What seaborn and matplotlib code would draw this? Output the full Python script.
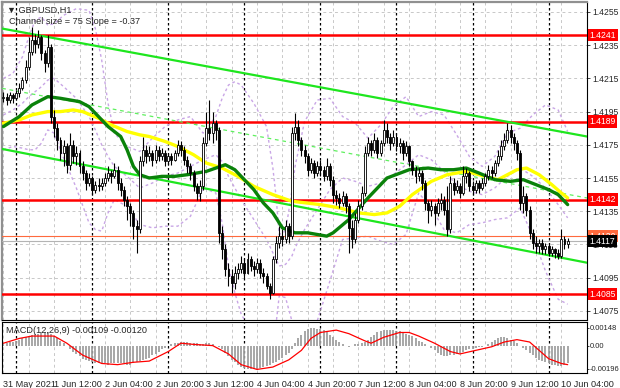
import numpy as np
import pandas as pd
import matplotlib
matplotlib.use("Agg")
import matplotlib.pyplot as plt
import matplotlib.transforms as mtransforms
import seaborn as sns

# ========== data (prices as pips above 1.4000, one value per H1 bar) ==========
# bar index 0 = 1 Jun 00:00, first bar = 31 May 20:00
first_bar = -4
close_p = [204, 202, 205, 203, 206, 209, 214, 222, 231, 238,
           236, 240, 230, 224, 234, 192, 185, 178, 170, 174,
           163, 175, 168, 170, 162, 158, 152, 155, 148, 151,
           150, 152, 155, 158, 156, 160, 152, 148, 142, 138,
           134, 126, 124, 165, 172, 168, 170, 166, 172, 168,
           170, 165, 168, 166, 170, 175, 172, 166, 162, 158,
           150, 146, 150, 176, 185, 182, 188, 184, 122, 112,
           100, 96, 92, 98, 100, 104, 98, 106, 102, 100,
           104, 98, 96, 90, 86, 106, 116, 120, 118, 126,
           120, 182, 186, 178, 172, 168, 160, 164, 158, 162,
           160, 156, 162, 154, 145, 143, 140, 144, 138, 125,
           118, 130, 138, 146, 170, 176, 172, 178, 170, 176,
           184, 180, 176, 180, 174, 176, 170, 174, 165, 160,
           156, 158, 152, 140, 136, 138, 134, 140, 142, 136,
           124, 152, 148, 150, 146, 156, 158, 150, 148, 152,
           149, 152, 156, 160, 158, 164, 168, 174, 178, 184,
           180, 176, 170, 140, 144, 136, 122, 116, 114, 116,
           112, 114, 110, 112, 110, 108, 118, 115, 117]
high_p = [207, 206, 207, 206, 208, 212, 216, 226, 240, 246,
          242, 244, 241, 232, 241, 236, 196, 188, 180, 178,
          176, 182, 178, 174, 172, 165, 160, 158, 156, 153,
          155, 155, 158, 162, 160, 164, 162, 155, 150, 144,
          140, 136, 130, 168, 180, 175, 174, 172, 175, 174,
          173, 172, 170, 170, 172, 178, 177, 174, 168, 164,
          160, 152, 154, 180, 195, 202, 195, 190, 186, 126,
          115, 104, 100, 102, 104, 108, 106, 110, 108, 105,
          107, 106, 101, 98, 92, 108, 120, 126, 124, 130,
          128, 186, 194, 190, 180, 175, 170, 167, 166, 165,
          166, 162, 167, 164, 156, 148, 146, 147, 146, 140,
          130, 134, 142, 150, 174, 180, 178, 182, 180, 178,
          190, 188, 182, 184, 182, 179, 178, 177, 175, 166,
          162, 161, 160, 154, 142, 142, 140, 143, 146, 144,
          150, 156, 155, 154, 152, 162, 161, 159, 153, 154,
          154, 155, 158, 163, 162, 166, 172, 178, 182, 188,
          187, 182, 178, 172, 150, 146, 138, 124, 120, 118,
          118, 116, 116, 114, 113, 112, 124, 120, 119]
low_p = [201, 199, 200, 200, 202, 204, 208, 212, 220, 229,
         230, 233, 226, 219, 222, 188, 180, 172, 166, 162,
         158, 160, 164, 163, 158, 154, 148, 150, 145, 146,
         147, 148, 150, 153, 152, 155, 148, 144, 138, 130,
         126, 118, 110, 122, 162, 164, 165, 162, 164, 165,
         166, 162, 163, 163, 165, 168, 168, 163, 158, 154,
         147, 142, 141, 148, 174, 178, 176, 178, 116, 106,
         96, 90, 86, 88, 94, 98, 95, 97, 99, 96,
         98, 95, 92, 88, 82, 85, 104, 113, 114, 116,
         116, 118, 178, 174, 168, 164, 156, 158, 155, 156,
         156, 153, 154, 150, 140, 139, 137, 138, 134, 110,
         113, 116, 128, 136, 144, 168, 168, 170, 167, 168,
         174, 176, 172, 174, 171, 170, 166, 168, 162, 157,
         152, 153, 148, 136, 128, 132, 127, 132, 136, 133,
         120, 122, 145, 146, 143, 145, 152, 147, 145, 146,
         146, 148, 150, 154, 155, 156, 162, 166, 172, 176,
         176, 172, 166, 136, 134, 132, 118, 112, 110, 110,
         109, 109, 108, 108, 107, 106, 107, 112, 113]
open0 = 203

# moving averages (bar index, price pips)
ma_green_i = [-4, 1, 5, 10, 14, 17, 20, 23, 26, 29, 33, 35, 37, 39, 42, 46,
              50, 54, 57, 60, 63, 66, 69, 72, 75, 78, 81, 84, 88, 92, 95, 98,
              100, 105, 111, 117, 124, 130, 134, 138, 142, 146, 151, 156, 160, 164, 168, 171, 174]
ma_green_p = [186, 192, 199, 204, 203, 202, 201, 198, 192, 186, 180, 172, 162, 157, 155, 156,
              156, 157, 158, 159, 161, 163, 160, 154, 148, 140, 134, 125, 122, 122, 121, 120,
              122, 130, 143, 155, 160, 161, 160, 160, 161, 158, 154, 153, 154, 151, 148, 145, 139]
ma_yellow_i = [-4, 1, 5, 10, 14, 18, 21, 26, 30, 35, 39, 42, 47, 51, 56, 60,
               65, 70, 75, 81, 87, 96, 102, 108, 113, 117, 121, 125, 131, 136,
               142, 148, 152, 155, 158, 161, 165, 169, 172, 174]
ma_yellow_p = [188, 190, 193, 195, 195, 196, 195, 191, 187, 183, 181, 180, 177, 174, 169, 164,
               161, 156, 150, 145, 141, 139, 137, 134, 133, 134, 138, 145, 153, 157,
               159, 156, 154, 157, 160, 161, 157, 151, 146, 143]

# Bollinger bands (bar index, price pips)
bb_i = [-4, -1, 2, 4, 6, 8, 10, 12, 15, 19, 23, 25, 27, 29, 31, 35, 39, 43, 47, 51,
        55, 59, 63, 65, 67, 69, 71, 75, 79, 81, 82, 83, 85, 87, 88, 91, 95, 99, 103,
        107, 111, 115, 119, 123, 127, 131, 135, 139, 143, 147, 151, 155, 159, 163,
        167, 171, 174]
bb_up = [215, 218, 228, 240, 250, 252, 247, 248, 253, 257, 256, 245, 226, 200, 182, 174, 171, 179, 186, 190,
         192, 182, 192, 203, 211, 213, 211, 200, 186, 161, 144, 121, 123, 147, 162, 189, 202, 203, 192,
         188, 179, 187, 198, 204, 192, 195, 193, 181, 168, 162, 168, 182, 185, 193,
         199, 196, 183]
bb_mid = [193, 196, 200, 204, 207, 210, 214, 215, 210, 203, 192, 184, 175, 168, 162, 156, 149, 152, 156, 158,
          162, 166, 169, 165, 156, 149, 142, 130, 118, 110, 106, 102, 103, 108, 113, 124, 136, 148, 155,
          153, 150, 152, 157, 163, 169, 166, 159, 151, 147, 145, 149, 156, 161, 156,
          149, 139, 131]
bb_lo = [172, 174, 173, 172, 172, 176, 184, 182, 167, 149, 128, 124, 123, 134, 142, 138, 127, 125, 126, 126,
         132, 149, 146, 128, 102, 86, 73, 60, 50, 57, 67, 84, 83, 69, 64, 58, 69, 93, 118,
         119, 120, 117, 115, 121, 146, 137, 124, 122, 127, 128, 130, 131, 137, 120,
         99, 82, 79]

# channel (price pips at left and right edge)
chan_x = [-4.4, 180.1]
chan_up = [245, 180]
chan_mid = [209, 143]
chan_lo = [172.5, 104]

levels = [241, 189, 142, 85]
level_labels = ["1.4241", "1.4189", "1.4142", "1.4085"]
bid_price = 117
ask_line = 120

# MACD histogram (units of 0.0001), one per bar, and signal line samples
macd_hist = [2, 2, 3, 3, 4, 5, 6, 7, 8,
             9, 10, 10, 11, 11, 11, 10,
             8, 6, 4, 2, 0,
             -3, -5, -7, -9,
             -11, -12, -13, -14, -15, -15,
             -15, -15, -16, -15, -15, -15, -15, -15, -16, -16,
             -15, -14, -13, -12, -11, -10,
             -8, -7, -5, -3, -2,
             0, 1, 2, 2, 3, 3, 3, 2, 2, 2, 1, 1, 2,
             2, 1, 0, -1,
             -3, -6, -9, -12, -14, -16, -18, -19, -20, -20, -20,
             -20, -19, -18, -17, -16, -15, -14, -12, -10, -8, -6,
             -3, 2, 6, 9, 12, 14,
             15, 15, 14, 14, 13,
             11, 9, 7, 5, 3, 1, 0,
             -1, 0, 1, 1, 2, 3,
             5, 7, 9, 11, 12, 13, 13, 13,
             13, 12, 12, 11, 10, 9,
             8, 6, 4, 3, 1, 0,
             -2, -4, -6, -8, -9, -9, -8, -8, -7, -6,
             -5, -4, -3, -3, -2, -1, -1, 0,
             1, 3, 5, 6, 7, 7, 6, 5, 4,
             2, 0, -2, -4,
             -6, -8, -10, -12, -13, -14, -15, -16, -16, -17, -17, -16, -15]
sig_i = [-4, 1, 5, 12, 16, 21, 27, 32, 37, 42, 48, 52, 56, 62, 67, 71, 76, 81,
         86, 90, 93, 96, 101, 105, 110, 112, 116, 121, 124, 127, 132, 137, 140, 145, 150,
         154, 158, 162, 165, 168, 172, 174]
sig_v = [2, 6, 8, 8, 2, -8, -15, -16, -14, -13, -5, 2, 1, 0, -7, -16, -20, -18,
         -12, -4, 6, 11, 13, 10, 4, 2, 7, 11, 11, 8, 2, -5, -7, -4, -1,
         3, 5, 3, -4, -11, -15, -16]

tick_labels = ["31 May 2021", "1 Jun 12:00", "2 Jun 04:00", "2 Jun 20:00", "3 Jun 12:00",
               "4 Jun 04:00", "4 Jun 20:00", "7 Jun 12:00", "8 Jun 04:00", "8 Jun 20:00",
               "9 Jun 12:00", "10 Jun 04:00"]
tick_bars = [-4, 12, 28, 44, 60, 76, 92, 108, 124, 140, 156, 172]
day_starts = [0, 24, 48, 72, 96, 120, 144, 168]
price_ticks = [1.4075, 1.4095, 1.4115, 1.4135, 1.4155, 1.4175, 1.4195, 1.4215, 1.4235, 1.4255]


def px(v):
    return 1.4 + np.asarray(v, dtype=float) / 10000.0


n = len(close_p)
idx = np.arange(first_bar, first_bar + n)
df = pd.DataFrame({"i": idx, "close": px(close_p), "high": px(high_p), "low": px(low_p)})
df["open"] = df["close"].shift(1).fillna(px(open0))

sns.set_style("white")
plt.rcParams["font.family"] = ["Liberation Sans Narrow", "Liberation Sans", "DejaVu Sans"]
FS = 6.2

fig = plt.figure(figsize=(6.2, 3.88), dpi=100)
W, H = 620.0, 388.0
ax = fig.add_axes([2 / W, (H - 320) / H, 585 / W, 318 / H])
mx = fig.add_axes([2 / W, (H - 373) / H, 585 / W, 51 / H])

xlim = (-4.45, 180.1)
for a in (ax, mx):
    a.set_xlim(*xlim)
    a.set_facecolor("white")
    for s in a.spines.values():
        s.set_color("black")
        s.set_linewidth(0.8)
ax.spines["left"].set_color("#909090")
ax.spines["left"].set_linewidth(1.6)
ax.spines["top"].set_color("#909090")
ax.spines["top"].set_linewidth(1.6)
ax.set_ylim(1.40695, 1.42610)

# grid
grid_kw = dict(color="#c8c8c8", lw=0.7, ls=(0, (3, 3)), zorder=0)
for p in price_ticks:
    ax.axhline(p, **grid_kw)
for b in range(-4, 180, 8):
    ax.axvline(b, **grid_kw)
    mx.axvline(b, **grid_kw)
for b in day_starts:
    ax.axvline(b, color="black", lw=0.9, ls=(0, (2, 2)), zorder=1)
    mx.axvline(b, color="black", lw=0.9, ls=(0, (2, 2)), zorder=1)

# Bollinger bands
bb_kw = dict(color="#c9a6e6", lw=1.0, ls=(0, (2, 2)), zorder=2)
for band in (bb_up, bb_mid, bb_lo):
    ax.plot(bb_i, px(band), **bb_kw)

# levels
for lv in levels:
    ax.axhline(px(lv), color="#ff0000", lw=1.8, zorder=3)
ax.axhline(px(ask_line), color="#ff6a3d", lw=0.8, zorder=3)
ax.axhline(px(bid_price), color="#b4b4b4", lw=0.8, zorder=3)

# channel
ax.plot(chan_x, px(chan_up), color="#1ee61e", lw=1.6, zorder=4)
ax.plot(chan_x, px(chan_lo), color="#1ee61e", lw=1.6, zorder=4)
ax.plot(chan_x, px(chan_mid), color="#5ef05e", lw=0.9, ls=(0, (3, 3)), zorder=4)

# moving averages
sns.lineplot(x=ma_yellow_i, y=px(ma_yellow_p), ax=ax, color="#ffff00", lw=2.4, zorder=5)
sns.lineplot(x=ma_green_i, y=px(ma_green_p), ax=ax, color="#0a820a", lw=2.4, zorder=6)

# candles
up = df["close"] >= df["open"]
ax.vlines(df["i"], df["low"], df["high"], color="black", lw=0.8, zorder=7)
body_lo = np.minimum(df["open"], df["close"])
body_h = np.maximum((df["close"] - df["open"]).abs(), 0.00003)
ax.bar(df["i"], body_h, bottom=body_lo, width=0.62,
       color=np.where(up, "white", "black"), edgecolor="black", lw=0.6, zorder=8)

# price axis
ax.yaxis.tick_right()
ax.set_yticks(price_ticks)
ax.set_yticklabels([f"{v:.4f}" for v in price_ticks], fontsize=FS)
ax.tick_params(axis="y", length=2.5, pad=1.5, width=0.6)
ax.set_xticks([])
ax.set_xlabel("")
ax.set_ylabel("")

trans = mtransforms.blended_transform_factory(ax.transAxes, ax.transData)
box_kw = dict(transform=trans, fontsize=FS, color="white", va="center", ha="left")
for lv, lab in zip(levels, level_labels):
    ax.text(1.004, px(lv), lab, zorder=10,
            bbox=dict(boxstyle="square,pad=0.2", fc="#ff0000", ec="none"), **box_kw)
ax.text(1.004, px(ask_line), "1.4120", zorder=10,
        bbox=dict(boxstyle="square,pad=0.2", fc="#ff6a3d", ec="none"), **box_kw)
ax.text(1.004, px(bid_price), "1.4117", zorder=11,
        bbox=dict(boxstyle="square,pad=0.2", fc="black", ec="none"), **box_kw)

ax.text(0.008, 0.988, "\u25bc GBPUSD,H1", transform=ax.transAxes, fontsize=FS + 0.4,
        va="top", ha="left", family=["Liberation Sans", "DejaVu Sans"])
ax.text(0.012, 0.953, "Channel size = 75 Slope = -0.37", transform=ax.transAxes,
        fontsize=FS + 0.4, va="top", ha="left", family=["Liberation Sans", "DejaVu Sans"])

# MACD
mx.set_ylim(-0.0023, 0.00198)
mx.vlines(idx, 0, np.array(macd_hist) / 10000.0, color="#a0a0a0", lw=1.3, zorder=2)
sns.lineplot(x=sig_i, y=np.array(sig_v) / 10000.0, ax=mx, color="#ff0000", lw=0.9, zorder=3)
mx.yaxis.tick_right()
mx.set_yticks([-0.00196, 0.0, 0.00148])
mx.set_yticklabels(["-0.00196", "0.00", "0.00148"], fontsize=FS - 0.7)
mx.tick_params(axis="y", length=1.5, pad=0.4, width=0.6)
mx.set_xticks(tick_bars)
mx.set_xticklabels(tick_labels, fontsize=FS + 0.4, ha="left")
mx.tick_params(axis="x", length=3, pad=2, width=0.6)
mx.set_xlabel("")
mx.set_ylabel("")
mx.text(0.006, 0.93, "MACD(12,26,9) -0.00109 -0.00120", transform=mx.transAxes,
        fontsize=FS + 0.4, va="top", ha="left", family=["Liberation Sans", "DejaVu Sans"])

fig.savefig("out.png", dpi=100)
